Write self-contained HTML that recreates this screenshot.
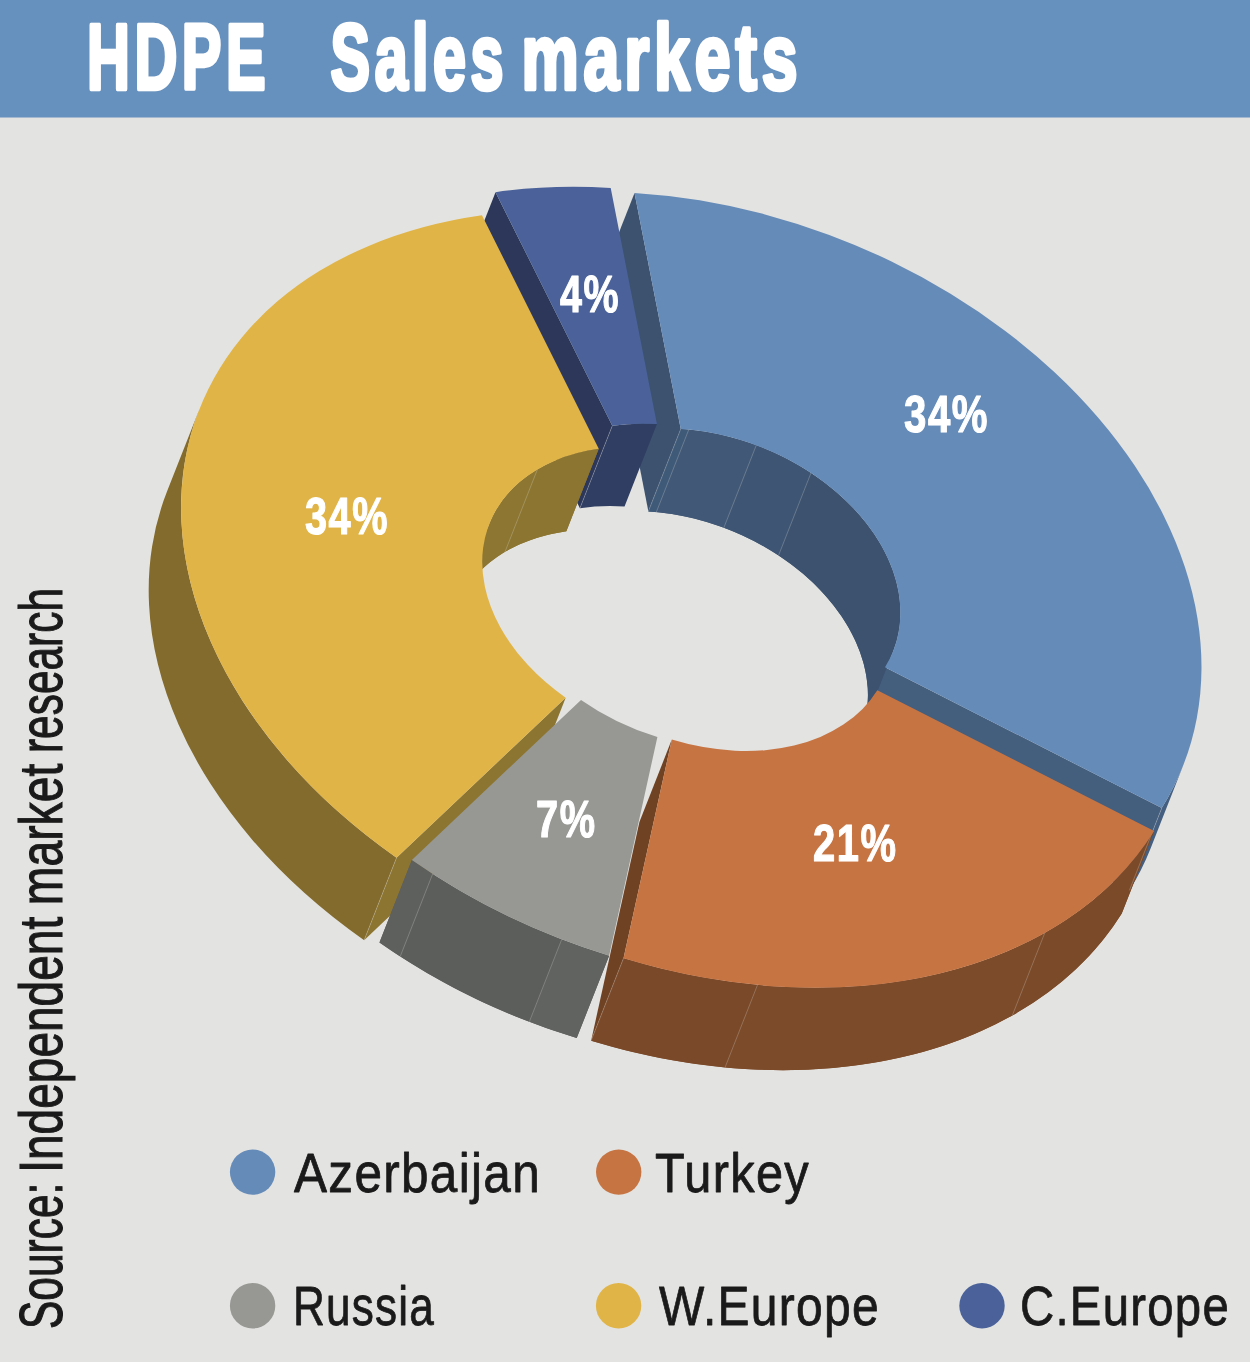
<!DOCTYPE html>
<html><head><meta charset="utf-8"><title>HDPE Sales markets</title>
<style>
html,body{margin:0;padding:0;background:#e3e3e1;}
body{width:1250px;height:1362px;overflow:hidden;}
svg{display:block;will-change:transform;}
text{font-family:'Liberation Sans', Arial, sans-serif;}
</style></head><body>
<svg width="1250" height="1362" viewBox="0 0 1250 1362">
<rect x="0" y="0" width="1250" height="1362" fill="#e3e3e1"/>
<rect x="0" y="0" width="1250" height="117.5" fill="#6690bd"/>
<text x="87.00" y="89.00" font-size="92.10" font-weight="bold" fill="#ffffff" stroke="#ffffff" stroke-width="4.40" stroke-linejoin="round" letter-spacing="7" textLength="183.00" lengthAdjust="spacingAndGlyphs">HDPE</text>
<text x="330.60" y="89.00" font-size="92.00" font-weight="bold" fill="#ffffff" stroke="#ffffff" stroke-width="4.40" stroke-linejoin="round" letter-spacing="7" textLength="177.40" lengthAdjust="spacingAndGlyphs">Sales</text>
<text x="521.40" y="89.00" font-size="92.00" font-weight="bold" fill="#ffffff" stroke="#ffffff" stroke-width="4.40" stroke-linejoin="round" letter-spacing="7" textLength="281.00" lengthAdjust="spacingAndGlyphs">markets</text>
<path d="M612.32,425.73L495.53,192.20L463.13,274.60L579.92,508.13Z" fill="#2c3759"/>
<path d="M680.76,429.00L634.53,192.91L602.13,275.31L648.36,511.40Z" fill="#3c526f"/>
<path d="M884.97,667.23L1161.78,808.01L1129.38,890.41L852.57,749.63Z" fill="#445e7e"/>
<path d="M565.67,697.67L396.54,857.78L364.14,940.18L533.27,780.07Z" fill="#8c7530"/>
<path d="M671.82,739.54L623.53,958.29L591.13,1040.69L639.42,821.94Z" fill="#704224"/>
<path d="M612.32,425.73A197.10,140.71 -158.280 0,1 656.93,424.11L624.53,506.51A197.10,140.71 -158.280 0,0 579.92,508.13Z" fill="#303e63"/>
<path d="M680.76,429.00A197.10,140.71 -158.280 0,1 893.25,650.77L860.85,733.17A197.10,140.71 -158.280 0,0 648.36,511.40Z" fill="#415876"/>
<path d="M680.76,429.00A197.10,140.71 -158.280 0,1 688.76,429.63L656.36,512.03A197.10,140.71 -158.280 0,0 648.36,511.40Z" fill="#3f5a79"/>
<path d="M688.76,429.63A197.10,140.71 -158.280 0,1 756.26,445.29L723.86,527.69A197.10,140.71 -158.280 0,0 656.36,512.03Z" fill="#415876"/>
<path d="M756.26,445.29A197.10,140.71 -158.280 0,1 810.97,472.99L778.57,555.39A197.10,140.71 -158.280 0,0 723.86,527.69Z" fill="#3e5573"/>
<path d="M810.97,472.99A197.10,140.71 -158.280 0,1 893.25,650.77L860.85,733.17A197.10,140.71 -158.280 0,0 778.57,555.39Z" fill="#3c526f"/>
<path d="M489.32,523.92A197.10,140.71 -158.280 0,1 598.76,448.82L566.36,531.22A197.10,140.71 -158.280 0,0 456.92,606.32Z" fill="#8c7530"/>
<path d="M489.32,523.92A197.10,140.71 -158.280 0,1 537.40,469.45L505.00,551.85A197.10,140.71 -158.280 0,0 456.92,606.32Z" fill="#8d7632"/>
<path d="M537.40,469.45A197.10,140.71 -158.280 0,1 598.76,448.82L566.36,531.22A197.10,140.71 -158.280 0,0 505.00,551.85Z" fill="#8c7530"/>
<path d="M1183.17,765.50A508.89,363.31 -158.280 0,1 1161.78,808.01L1129.38,890.41A508.89,363.31 -158.280 0,0 1150.77,847.90Z" fill="#455f80"/>
<path d="M396.54,857.78A508.89,363.31 -158.280 0,1 199.40,409.19L167.00,491.59A508.89,363.31 -158.280 0,0 364.14,940.18Z" fill="#836a2d"/>
<path d="M1154.15,831.01A508.89,363.31 -158.280 0,1 623.53,958.29L591.13,1040.69A508.89,363.31 -158.280 0,0 1121.75,913.41Z" fill="#7c4b2a"/>
<path d="M1154.15,831.01A508.89,363.31 -158.280 0,1 1044.76,932.98L1012.36,1015.38A508.89,363.31 -158.280 0,0 1121.75,913.41Z" fill="#7b4a29"/>
<path d="M1044.76,932.98A508.89,363.31 -158.280 0,1 757.47,984.99L725.07,1067.39A508.89,363.31 -158.280 0,0 1012.36,1015.38Z" fill="#7c4b2a"/>
<path d="M757.47,984.99A508.89,363.31 -158.280 0,1 623.53,958.29L591.13,1040.69A508.89,363.31 -158.280 0,0 725.07,1067.39Z" fill="#7a4929"/>
<path d="M609.11,955.72A508.89,363.31 -158.280 0,1 411.87,860.02L379.47,942.42A508.89,363.31 -158.280 0,0 576.71,1038.12Z" fill="#5c5e5b"/>
<path d="M609.11,955.72A508.89,363.31 -158.280 0,1 561.71,939.41L529.31,1021.81A508.89,363.31 -158.280 0,0 576.71,1038.12Z" fill="#616360"/>
<path d="M561.71,939.41A508.89,363.31 -158.280 0,1 432.65,873.99L400.25,956.39A508.89,363.31 -158.280 0,0 529.31,1021.81Z" fill="#5c5e5b"/>
<path d="M432.65,873.99A508.89,363.31 -158.280 0,1 411.87,860.02L379.47,942.42A508.89,363.31 -158.280 0,0 400.25,956.39Z" fill="#5e605d"/>
<path d="M612.32,425.73L579.92,508.13M680.76,429.00L648.36,511.40M688.76,429.63L656.36,512.03M756.26,445.29L723.86,527.69M810.97,472.99L778.57,555.39M1161.78,808.01L1129.38,890.41M537.40,469.45L505.00,551.85M396.54,857.78L364.14,940.18M1044.76,932.98L1012.36,1015.38M757.47,984.99L725.07,1067.39M623.53,958.29L591.13,1040.69M561.71,939.41L529.31,1021.81M432.65,873.99L400.25,956.39" fill="none" stroke="#e3e3e1" stroke-opacity="0.35" stroke-width="0.75"/>
<path d="M495.53,192.20A508.89,363.31 -158.280 0,1 610.71,188.03L656.93,424.11A197.10,140.71 -158.280 0,0 612.32,425.73Z" fill="#4a6299"/>
<path d="M634.53,192.91A508.89,363.31 -158.280 0,1 1161.78,808.01L884.97,667.23A197.10,140.71 -158.280 0,0 680.76,429.00Z" fill="#658bb8"/>
<path d="M396.54,857.78A508.89,363.31 -158.280 0,1 481.97,215.28L598.76,448.82A197.10,140.71 -158.280 0,0 565.67,697.67Z" fill="#e0b447"/>
<path d="M1154.15,831.01A508.89,363.31 -158.280 0,1 623.53,958.29L671.82,739.54A197.10,140.71 -158.280 0,0 877.33,690.24Z" fill="#c77443"/>
<path d="M609.11,955.72A508.89,363.31 -158.280 0,1 411.87,860.02L581.01,699.90A197.10,140.71 -158.280 0,0 657.40,736.97Z" fill="#979894"/>
<text x="560.00" y="312.00" font-size="52.10" font-weight="bold" fill="#ffffff" stroke="#ffffff" stroke-width="1.20" stroke-linejoin="round" letter-spacing="2" textLength="60.00" lengthAdjust="spacingAndGlyphs">4%</text>
<text x="904.00" y="432.30" font-size="52.10" font-weight="bold" fill="#ffffff" stroke="#ffffff" stroke-width="1.20" stroke-linejoin="round" letter-spacing="2" textLength="85.00" lengthAdjust="spacingAndGlyphs">34%</text>
<text x="305.00" y="534.00" font-size="52.10" font-weight="bold" fill="#ffffff" stroke="#ffffff" stroke-width="1.20" stroke-linejoin="round" letter-spacing="2" textLength="84.00" lengthAdjust="spacingAndGlyphs">34%</text>
<text x="536.00" y="837.00" font-size="52.10" font-weight="bold" fill="#ffffff" stroke="#ffffff" stroke-width="1.20" stroke-linejoin="round" letter-spacing="2" textLength="60.50" lengthAdjust="spacingAndGlyphs">7%</text>
<text x="813.00" y="861.00" font-size="52.10" font-weight="bold" fill="#ffffff" stroke="#ffffff" stroke-width="1.20" stroke-linejoin="round" letter-spacing="2" textLength="84.50" lengthAdjust="spacingAndGlyphs">21%</text>
<circle cx="252.6" cy="1172.1" r="22.7" fill="#658bb8"/>
<circle cx="618.7" cy="1172.1" r="22.7" fill="#c77443"/>
<circle cx="252.6" cy="1305.7" r="22.7" fill="#979894"/>
<circle cx="618.6" cy="1305.7" r="22.7" fill="#e0b447"/>
<circle cx="982" cy="1305.7" r="22.7" fill="#4a6299"/>
<text x="294.00" y="1192.00" font-size="55.80" fill="#1a1a1a" stroke="#1a1a1a" stroke-width="0.80" stroke-linejoin="round" letter-spacing="1.5" textLength="247.00" lengthAdjust="spacingAndGlyphs">Azerbaijan</text>
<text x="655.00" y="1192.00" font-size="55.80" fill="#1a1a1a" stroke="#1a1a1a" stroke-width="0.80" stroke-linejoin="round" letter-spacing="1.5" textLength="155.00" lengthAdjust="spacingAndGlyphs">Turkey</text>
<text x="293.00" y="1325.00" font-size="55.80" fill="#1a1a1a" stroke="#1a1a1a" stroke-width="0.80" stroke-linejoin="round" letter-spacing="1.5" textLength="142.00" lengthAdjust="spacingAndGlyphs">Russia</text>
<text x="659.00" y="1325.00" font-size="55.80" fill="#1a1a1a" stroke="#1a1a1a" stroke-width="0.80" stroke-linejoin="round" letter-spacing="1.5" textLength="221.00" lengthAdjust="spacingAndGlyphs">W.Europe</text>
<text x="1020.00" y="1325.00" font-size="55.80" fill="#1a1a1a" stroke="#1a1a1a" stroke-width="0.80" stroke-linejoin="round" letter-spacing="1.5" textLength="210.00" lengthAdjust="spacingAndGlyphs">C.Europe</text>
<text transform="translate(62.00,1329.00) rotate(-90)" x="0" y="0" font-size="61.59" fill="#1a1a1a" stroke="#1a1a1a" stroke-width="1.10" textLength="146.40" lengthAdjust="spacingAndGlyphs">Source:</text>
<text transform="translate(62.00,1172.80) rotate(-90)" x="0" y="0" font-size="61.59" fill="#1a1a1a" stroke="#1a1a1a" stroke-width="1.10" textLength="256.00" lengthAdjust="spacingAndGlyphs">Independent</text>
<text transform="translate(62.00,905.20) rotate(-90)" x="0" y="0" font-size="61.59" fill="#1a1a1a" stroke="#1a1a1a" stroke-width="1.10" textLength="141.60" lengthAdjust="spacingAndGlyphs">market</text>
<text transform="translate(62.00,753.00) rotate(-90)" x="0" y="0" font-size="61.59" fill="#1a1a1a" stroke="#1a1a1a" stroke-width="1.10" textLength="165.00" lengthAdjust="spacingAndGlyphs">research</text>
</svg>
</body></html>
